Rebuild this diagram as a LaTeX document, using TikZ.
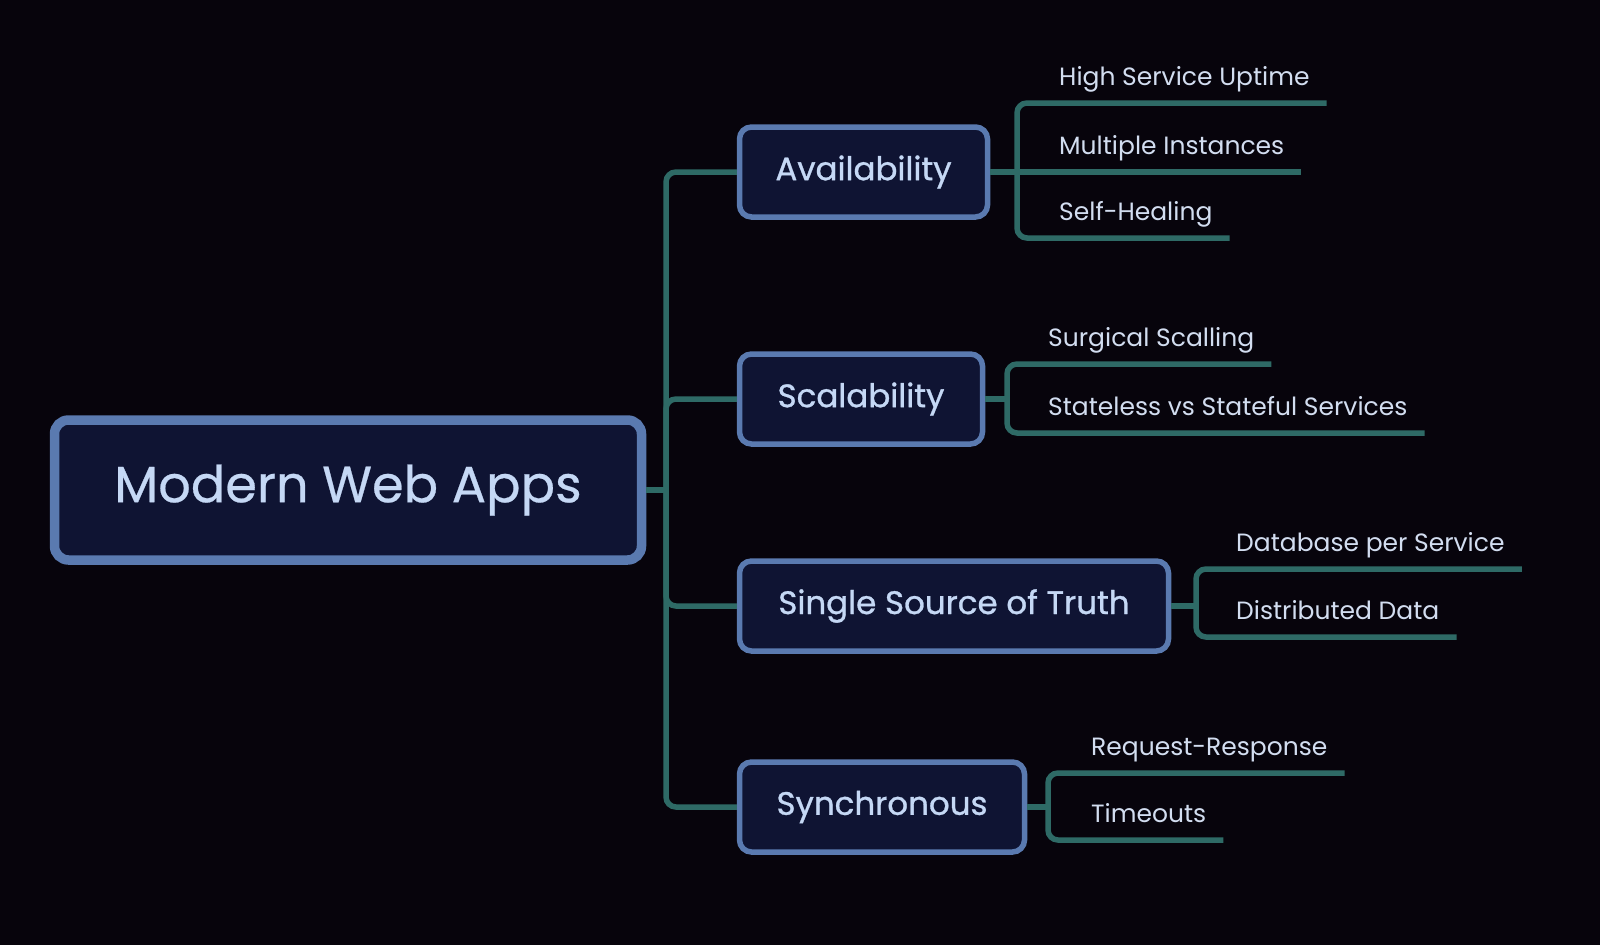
\documentclass[tikz,border=0pt]{standalone}
\usepackage{fontspec}
\setmainfont{Poppins}
\newfontfamily\topicfont{Poppins}[FakeBold=0.9]
\newfontfamily\rootfont{Poppins}[FakeBold=0.5]
\usetikzlibrary{calc}
\definecolor{bgc}{HTML}{07040C}
\definecolor{boxfill}{HTML}{0F1433}
\definecolor{boxborder}{HTML}{5A7AB0}
\definecolor{boxtext}{HTML}{C5D8F5}
\definecolor{leaftext}{HTML}{D2DDF0}
\definecolor{connc}{HTML}{2E6A66}
\begin{document}
\begin{tikzpicture}[x=1pt,y=-1pt,
  mainbox/.style={draw=boxborder, fill=boxfill, line width=9.5pt, rounded corners=14pt, text=boxtext,
    font=\rootfont\fontsize{51}{60}\selectfont, minimum width=587pt, minimum height=140pt, inner sep=0pt},
  topic/.style={draw=boxborder, fill=boxfill, line width=5.5pt, rounded corners=12pt, text=boxtext,
    font=\topicfont\fontsize{32.5}{38}\selectfont, minimum height=90pt, inner sep=0pt},
  leaf/.style={text=leaftext, font=\fontsize{25}{30}\selectfont, anchor=base west, inner sep=0pt},
  connline/.style={draw=connc, line width=5.5pt, rounded corners=10pt}]
\fill[bgc] (0,0) rectangle (1600,945);
\useasboundingbox (0,0) rectangle (1600,945);

% root and topics
\node[mainbox] (root) at (348,490) {Modern Web Apps};
\node[topic, minimum width=248pt] (avail) at (863.5,172) {Availability};
\node[topic, minimum width=243pt] (scal) at (861,399) {Scalability};
\node[topic, minimum width=429pt] (ssot) at (954,606) {Single Source of Truth};
\node[topic, minimum width=285pt] (sync) at (882,807) {Synchronous};

% trunk
\coordinate (tj) at (666,490);
\draw[connline] (root.east) -- (tj);
\draw[connline] (tj) |- (avail.west);
\draw[connline] (tj) |- (scal.west);
\draw[connline] (tj) |- (ssot.west);
\draw[connline] (tj) |- (sync.west);

% Availability children
\coordinate (aj) at (1017,172);
\node[leaf] (a1) at (1059,85) {High Service Uptime};
\node[leaf] (a2) at (1059,154) {Multiple Instances};
\node[leaf] (a3) at (1059,220) {Self-Healing};
\coordinate (a1e) at ($(a1.base east)+(17,18)$);
\coordinate (a2e) at ($(a2.base east)+(17,18)$);
\coordinate (a3e) at ($(a3.base east)+(17,18)$);
\draw[connline] (avail.east) -- (aj);
\draw[connline] (aj) |- (a1e);
\draw[connline] (aj) -- (a2e);
\draw[connline] (aj) |- (a3e);

% Scalability children
\coordinate (sj) at (1007,399);
\node[leaf] (s1) at (1048,346) {Surgical Scalling};
\node[leaf] (s2) at (1048,415) {Stateless vs Stateful Services};
\coordinate (s1e) at ($(s1.base east)+(17,18)$);
\coordinate (s2e) at ($(s2.base east)+(17,18)$);
\draw[connline] (scal.east) -- (sj);
\draw[connline] (sj) |- (s1e);
\draw[connline] (sj) |- (s2e);

% Single Source of Truth children
\coordinate (dj) at (1196,606);
\node[leaf] (d1) at (1236,551) {Database per Service};
\node[leaf] (d2) at (1236,619) {Distributed Data};
\coordinate (d1e) at ($(d1.base east)+(17,18)$);
\coordinate (d2e) at ($(d2.base east)+(17,18)$);
\draw[connline] (ssot.east) -- (dj);
\draw[connline] (dj) |- (d1e);
\draw[connline] (dj) |- (d2e);

% Synchronous children
\coordinate (yj) at (1048,807);
\node[leaf] (y1) at (1091,755) {Request-Response};
\node[leaf] (y2) at (1091,822) {Timeouts};
\coordinate (y1e) at ($(y1.base east)+(17,18)$);
\coordinate (y2e) at ($(y2.base east)+(17,18)$);
\draw[connline] (sync.east) -- (yj);
\draw[connline] (yj) |- (y1e);
\draw[connline] (yj) |- (y2e);
\end{tikzpicture}
\end{document}
